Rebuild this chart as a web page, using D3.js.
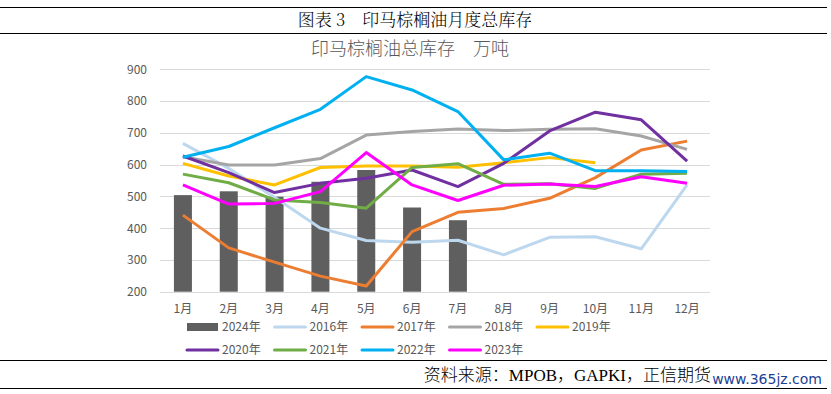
<!DOCTYPE html>
<html lang="zh">
<head>
  <meta charset="UTF-8">
  <title>印马棕榈油月度总库存</title>
  <style>
    html, body {
      margin: 0;
      background: #ffffff;
    }
    svg text {
      font-family: "Noto Sans CJK SC", "DejaVu Sans", sans-serif;
    }
  </style>
</head>
<body>
  <svg id="chart" width="831" height="394"></svg>

  <script src="https://cdnjs.cloudflare.com/ajax/libs/d3/7.8.5/d3.min.js"></script>
  <script>
    const months = ['1月', '2月', '3月', '4月', '5月', '6月', '7月', '8月', '9月', '10月', '11月', '12月'];
    const yTicks = [200, 300, 400, 500, 600, 700, 800, 900];

    // 2024 is drawn as bars, other years as lines
    const stocks2024 = [504, 516, 499, 546, 583, 465, 425];
    const stocks2016 = [667, 588, 497, 400, 361, 356, 362, 316, 371, 373, 335, 536];
    const stocks2017 = [441, 338, 293, 249, 218, 389, 450, 462, 494, 559, 646, 674];
    const stocks2018 = [625, 599, 599, 619, 693, 704, 712, 707, 711, 713, 690, 648];
    const stocks2019 = [604, 564, 536, 591, 596, 596, 592, 606, 622, 606];
    const stocks2020 = [627, 575, 512, 541, 557, 583, 531, 604, 706, 765, 741, 611];
    const stocks2021 = [570, 543, 489, 481, 463, 591, 603, 538, 540, 525, 570, 573];
    const stocks2022 = [623, 657, 716, 774, 877, 835, 767, 615, 636, 581, 581, 578];
    const stocks2023 = [536, 476, 478, 515, 638, 536, 487, 535, 539, 531, 562, 541];

    const lineSeries = [
      { name: '2016年', color: '#bdd7ee', values: stocks2016 },
      { name: '2017年', color: '#ed7d31', values: stocks2017 },
      { name: '2018年', color: '#a5a5a5', values: stocks2018 },
      { name: '2019年', color: '#ffc000', values: stocks2019 },
      { name: '2020年', color: '#7030a0', values: stocks2020 },
      { name: '2021年', color: '#70ad47', values: stocks2021 },
      { name: '2022年', color: '#00b0f0', values: stocks2022 },
      { name: '2023年', color: '#ff00ff', values: stocks2023 }
    ];
    const barColor = '#5f5f5f';
    const axisColor = '#595959';

    const svg = d3.select('#chart');

    // report frame: rules and heading
    svg.append('line').attr('x1', 0).attr('x2', 827).attr('y1', 7.5).attr('y2', 7.5)
      .attr('stroke', '#000').attr('stroke-width', 1.2);
    svg.append('line').attr('x1', 0).attr('x2', 827).attr('y1', 33.5).attr('y2', 33.5)
      .attr('stroke', '#000').attr('stroke-width', 1.2);
    svg.append('text').attr('x', 415).attr('y', 26).attr('text-anchor', 'middle')
      .style('font-family', '"Noto Serif CJK SC", "Noto Sans CJK SC", serif')
      .style('font-size', '17px').style('font-weight', 300).attr('fill', '#000')
      .text('图表 3　印马棕榈油月度总库存');

    svg.append('text').attr('x', 410).attr('y', 55).attr('text-anchor', 'middle')
      .style('font-size', '18px').style('font-weight', 300).attr('fill', axisColor)
      .text('印马棕榈油总库存　万吨');

    // plot
    const x = d3.scaleBand().domain(months).range([160, 710]);
    const y = d3.scaleLinear().domain([200, 900]).range([291.7, 69.3]);

    const grid = svg.append('g');
    grid.selectAll('line').data(yTicks).join('line')
      .attr('x1', 160).attr('x2', 710)
      .attr('y1', d => Math.round(y(d)) + 0.5).attr('y2', d => Math.round(y(d)) + 0.5)
      .attr('stroke', '#d9d9d9').attr('stroke-width', 1);

    const yAxis = svg.append('g').attr('transform', 'translate(147,0)')
      .call(d3.axisLeft(y).tickValues(yTicks).tickSize(0).tickPadding(0));
    yAxis.select('.domain').remove();
    yAxis.selectAll('text').attr('fill', axisColor).style('font-size', '12px');

    const xAxis = svg.append('g').attr('transform', 'translate(0,302)')
      .call(d3.axisBottom(x).tickSize(0).tickPadding(0));
    xAxis.select('.domain').remove();
    xAxis.selectAll('text').attr('fill', axisColor).style('font-size', '12px').attr('dy', '0.9em');

    svg.append('g').selectAll('rect').data(stocks2024).join('rect')
      .attr('x', (d, i) => x(months[i]) + x.bandwidth() / 2 - 9)
      .attr('width', 18)
      .attr('y', d => y(d))
      .attr('height', d => y(200) - y(d))
      .attr('fill', barColor);

    const line = d3.line()
      .x((d, i) => x(months[i]) + x.bandwidth() / 2)
      .y(d => y(d));

    svg.append('g').selectAll('path').data(lineSeries).join('path')
      .attr('d', d => line(d.values))
      .attr('fill', 'none')
      .attr('stroke', d => d.color)
      .attr('stroke-width', 3)
      .attr('stroke-linejoin', 'round');

    // legend
    const legendItems = [{ name: '2024年', color: barColor, bar: true }].concat(lineSeries);
    const legend = svg.append('g');
    legendItems.forEach((d, i) => {
      const col = i < 5 ? i : i - 5;
      const row = i < 5 ? 0 : 1;
      const lx = 187 + col * 87.5;
      const ly = row === 0 ? 327 : 350;
      if (d.bar) {
        legend.append('rect').attr('x', lx).attr('y', ly - 4).attr('width', 31).attr('height', 8).attr('fill', d.color);
      } else {
        legend.append('line').attr('x1', lx).attr('x2', lx + 31).attr('y1', ly).attr('y2', ly)
          .attr('stroke', d.color).attr('stroke-width', 3).attr('stroke-linecap', 'round');
      }
      legend.append('text').attr('x', lx + 35).attr('y', ly).attr('dy', '0.35em')
        .attr('fill', axisColor).style('font-size', '12px').text(d.name);
    });

    // source line
    svg.append('line').attr('x1', 0).attr('x2', 827).attr('y1', 360.5).attr('y2', 360.5)
      .attr('stroke', '#000').attr('stroke-width', 1.2);
    svg.append('line').attr('x1', 0).attr('x2', 827).attr('y1', 388.5).attr('y2', 388.5)
      .attr('stroke', '#000').attr('stroke-width', 1.2);
    svg.append('text').attr('x', 711).attr('y', 381).attr('text-anchor', 'end')
      .style('font-family', '"Liberation Serif", "Noto Sans CJK SC", serif')
      .style('font-size', '17px').style('font-weight', 300).attr('fill', '#000')
      .text('资料来源：MPOB，GAPKI，正信期货');
    svg.append('text').attr('x', 822).attr('y', 384).attr('text-anchor', 'end')
      .style('font-family', '"DejaVu Sans", sans-serif')
      .style('font-size', '14px').attr('fill', '#1c3f94')
      .text('www.365jz.com');
  </script>
</body>
</html>
